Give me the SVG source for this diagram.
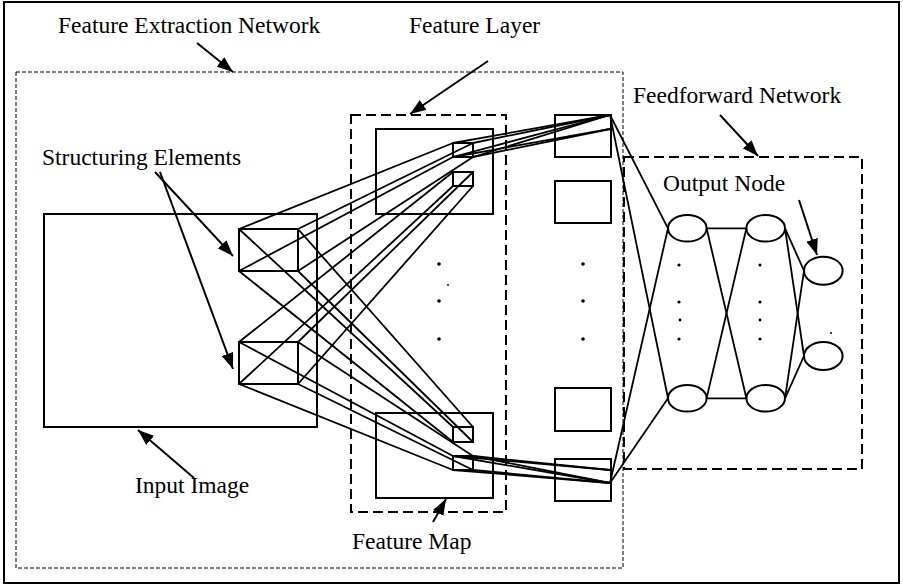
<svg xmlns="http://www.w3.org/2000/svg" width="903" height="585" viewBox="0 0 903 585">
<defs>
<marker id="ah" viewBox="0 0 16 12" refX="16" refY="6" markerWidth="16" markerHeight="12" markerUnits="userSpaceOnUse" orient="auto">
<path d="M0,0 L16,6 L0,12 Z" fill="#000"/>
</marker>
<style>
.t{font-family:"Liberation Serif","Times New Roman",serif;font-size:23.5px;fill:#000}
.b{fill:none;stroke:#000;stroke-width:2}
.l{fill:none;stroke:#000;stroke-width:1.8}
.d1{fill:none;stroke:#000;stroke-width:1;stroke-dasharray:4 2}
.d2{fill:none;stroke:#000;stroke-width:2;stroke-dasharray:10 5}
.a{stroke:#000;stroke-width:2;fill:none;marker-end:url(#ah)}
.dot{fill:#000}
</style>
</defs>
<rect x="0" y="0" width="903" height="585" fill="#fff"/>
<rect x="4" y="2" width="895" height="581" class="b"/>

<g id="feature-extraction-network">
<rect x="16" y="72" width="607" height="496" class="d1"/>
<text class="t" x="58" y="33">Feature Extraction Network</text>
</g>

<g id="input-image">
<rect x="44" y="214" width="273" height="213" class="b"/>
<text class="t" x="135" y="493">Input Image</text>
</g>

<g id="structuring-elements">
<text class="t" x="42" y="165">Structuring Elements</text>
<rect x="239" y="229" width="59" height="42" class="b"/>
<rect x="239" y="342" width="59" height="42" class="b"/>
</g>

<g id="feature-layer">
<rect x="351" y="115" width="155" height="397" class="d2"/>
<text class="t" x="409" y="33">Feature Layer</text>
<circle class="dot" cx="439" cy="264" r="1.8"/>
<circle class="dot" cx="448" cy="285" r="0.9"/>
<circle class="dot" cx="439" cy="301" r="1.8"/>
<circle class="dot" cx="439" cy="339" r="1.8"/>
</g>

<g id="feature-map-top">
<rect x="376" y="129" width="117" height="85" class="b"/>
<rect x="453" y="143" width="20" height="14" class="b"/>
<rect x="453" y="172" width="20" height="14" class="b"/>
</g>

<g id="feature-map-bottom">
<rect x="376" y="413" width="117" height="85" class="b"/>
<rect x="453" y="427" width="20" height="15" class="b"/>
<rect x="453" y="456" width="20" height="14" class="b"/>
<text class="t" x="352" y="549">Feature Map</text>
</g>

<g id="input-column">
<rect x="555" y="115" width="56" height="42" class="b"/>
<rect x="555" y="181" width="56" height="42" class="b"/>
<rect x="555" y="388" width="56" height="43" class="b"/>
<rect x="555" y="459" width="56" height="42" class="b"/>
<circle class="dot" cx="583" cy="264" r="1.8"/>
<circle class="dot" cx="583" cy="301" r="1.8"/>
<circle class="dot" cx="583" cy="339" r="1.8"/>
</g>

<g id="feedforward-network">
<rect x="624" y="157" width="238" height="312" class="d2"/>
<text class="t" x="633" y="103">Feedforward Network</text>
</g>

<g id="hidden-1">
<ellipse cx="687.3" cy="228.3" rx="19.3" ry="13.3" class="b"/>
<ellipse cx="687.3" cy="398.3" rx="19.3" ry="13.3" class="b"/>
<circle class="dot" cx="679" cy="265" r="1.6"/>
<circle class="dot" cx="679" cy="302" r="1.6"/>
<circle class="dot" cx="680" cy="320" r="1.4"/>
<circle class="dot" cx="679" cy="339" r="1.6"/>
</g>

<g id="hidden-2">
<ellipse cx="765.7" cy="228.3" rx="19.3" ry="13.3" class="b"/>
<ellipse cx="765.7" cy="398.3" rx="19.3" ry="13.3" class="b"/>
<circle class="dot" cx="760" cy="265" r="1.6"/>
<circle class="dot" cx="760" cy="302" r="1.6"/>
<circle class="dot" cx="760" cy="320" r="1.4"/>
<circle class="dot" cx="760" cy="339" r="1.6"/>
</g>

<g id="output-node">
<ellipse cx="823.3" cy="270.7" rx="19.3" ry="14" class="b"/>
<ellipse cx="823.3" cy="356" rx="19.3" ry="14" class="b"/>
<circle class="dot" cx="831" cy="333" r="1"/>
<text class="t" x="663" y="191">Output Node</text>
</g>

<g id="connectors">
<!-- S1 to A -->
<line class="l" x1="239" y1="229" x2="453" y2="143"/>
<line class="l" x1="298" y1="229" x2="473" y2="143"/>
<line class="l" x1="239" y1="271" x2="453" y2="157"/>
<line class="l" x1="298" y1="271" x2="473" y2="157"/>
<!-- S1 to C -->
<line class="l" x1="239" y1="229" x2="453" y2="427"/>
<line class="l" x1="298" y1="229" x2="473" y2="427"/>
<line class="l" x1="239" y1="271" x2="453" y2="442"/>
<line class="l" x1="298" y1="271" x2="473" y2="442"/>
<!-- S2 to B -->
<line class="l" x1="239" y1="342" x2="453" y2="172"/>
<line class="l" x1="298" y1="342" x2="473" y2="172"/>
<line class="l" x1="239" y1="384" x2="453" y2="186"/>
<line class="l" x1="298" y1="384" x2="473" y2="186"/>
<!-- S2 to D -->
<line class="l" x1="239" y1="342" x2="453" y2="456"/>
<line class="l" x1="298" y1="342" x2="473" y2="456"/>
<line class="l" x1="239" y1="384" x2="453" y2="470"/>
<line class="l" x1="298" y1="384" x2="473" y2="470"/>
<!-- A to input column -->
<line class="l" x1="453" y1="143" x2="610" y2="115"/>
<line class="l" x1="473" y1="143" x2="610" y2="115"/>
<line class="l" x1="453" y1="157" x2="610" y2="115"/>
<line class="l" x1="473" y1="157" x2="610" y2="115"/>
<line class="l" x1="453" y1="157" x2="610" y2="129"/>
<line class="l" x1="473" y1="157" x2="610" y2="129"/>
<!-- D to input column -->
<line class="l" x1="453" y1="456" x2="610" y2="470"/>
<line class="l" x1="473" y1="456" x2="610" y2="470"/>
<line class="l" x1="453" y1="456" x2="610" y2="483"/>
<line class="l" x1="473" y1="456" x2="610" y2="483"/>
<line class="l" x1="453" y1="470" x2="610" y2="483"/>
<line class="l" x1="473" y1="470" x2="610" y2="483"/>
<!-- input column to hidden 1 -->
<line class="l" x1="610" y1="115" x2="668" y2="228.3"/>
<line class="l" x1="610" y1="115" x2="668" y2="398.3"/>
<line class="l" x1="610" y1="483" x2="668" y2="228.3"/>
<line class="l" x1="610" y1="483" x2="668" y2="398.3"/>
<!-- hidden 1 to hidden 2 -->
<line class="l" x1="706.6" y1="228.3" x2="746.4" y2="228.3"/>
<line class="l" x1="706.6" y1="398.3" x2="746.4" y2="398.3"/>
<line class="l" x1="706.6" y1="228.3" x2="746.4" y2="398.3"/>
<line class="l" x1="706.6" y1="398.3" x2="746.4" y2="228.3"/>
<!-- hidden 2 to output -->
<line class="l" x1="785" y1="228.3" x2="804" y2="270.7"/>
<line class="l" x1="785" y1="228.3" x2="804" y2="356"/>
<line class="l" x1="785" y1="398.3" x2="804" y2="270.7"/>
<line class="l" x1="785" y1="398.3" x2="804" y2="356"/>
<!-- label arrows -->
<line class="a" x1="197" y1="43" x2="233" y2="72"/>
<line class="a" x1="488" y1="61" x2="410" y2="114"/>
<line class="a" x1="720" y1="115" x2="758" y2="156"/>
<line class="a" x1="799" y1="200" x2="817" y2="255"/>
<line class="a" x1="155" y1="172" x2="233" y2="256"/>
<line class="a" x1="160" y1="172" x2="233" y2="369"/>
<line class="a" x1="194" y1="478" x2="138" y2="430"/>
<line class="a" x1="433" y1="522" x2="446" y2="499"/>
</g>
</svg>
